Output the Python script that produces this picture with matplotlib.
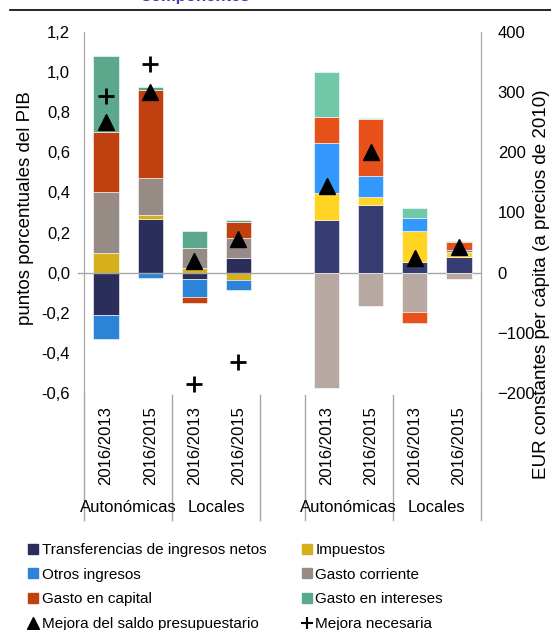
import numpy as np
import matplotlib.pyplot as plt
from matplotlib.lines import Line2D

plt.rcParams['font.family'] = ['Liberation Sans', 'DejaVu Sans']

# categorias
periodos = ["2016/2013", "2016/2015", "2016/2013", "2016/2015"]
grupos = ["Autonómicas", "Locales"]

componentes = ["Transferencias de ingresos netos", "Impuestos", "Otros ingresos",
               "Gasto corriente", "Gasto en capital", "Gasto en intereses"]

# puntos porcentuales del PIB (panel izquierdo)
pib_transf = [-0.21, 0.27, -0.033, 0.071]
pib_impuestos = [0.10, 0.02, 0.025, -0.038]
pib_otros = [-0.12, -0.025, -0.09, -0.05]
pib_corriente = [0.30, 0.18, 0.10, 0.103]
pib_capital = [0.30, 0.44, -0.027, 0.078]
pib_intereses = [0.38, 0.015, 0.083, 0.01]
pib_saldo = [0.75, 0.90, 0.058, 0.166]
pib_necesaria = [0.88, 1.04, -0.555, -0.445]

# EUR constantes per capita (panel derecho)
eur_transf = [88, 112, 17, 26]
eur_impuestos = [45, 14, 53, 8]
eur_otros = [83, 35, 21, 4]
eur_corriente = [-192, -56, -66, -11]
eur_capital = [42, 94, -18, 13]
eur_intereses = [76, 2, 17, 2]
eur_saldo = [144, 201, 24, 43]

col_izq = ['#2b2d5b', '#d5b01c', '#2b84d8', '#978b85', '#c0410f', '#5ba88c']
col_der = ['#363d72', '#ffd422', '#3399ff', '#b8a8a2', '#e8521a', '#6fc8a8']

W, H = 551, 630
fig = plt.figure(figsize=(W / 100, H / 100), dpi=100)
ax = fig.add_axes([84 / W, 1 - 393 / H, (481 - 84) / W, (393 - 32) / H])
ax2 = ax.twinx()

pos_izq = np.array([0, 1, 2, 3])
pos_der = np.array([5, 6, 7, 8])
ancho = 0.57


def apilar(eje, xs, series, colores):
    arriba = np.zeros(len(xs))
    abajo = np.zeros(len(xs))
    for vals, c in zip(series, colores):
        vals = np.array(vals, dtype=float)
        base = np.where(vals >= 0, arriba, abajo)
        eje.bar(xs, vals, ancho, bottom=base, color=c, edgecolor='white', linewidth=0.4, zorder=2)
        arriba = arriba + np.where(vals >= 0, vals, 0)
        abajo = abajo + np.where(vals < 0, vals, 0)


apilar(ax, pos_izq, [pib_transf, pib_impuestos, pib_otros, pib_corriente, pib_capital, pib_intereses], col_izq)
apilar(ax2, pos_der, [eur_transf, eur_impuestos, eur_otros, eur_corriente, eur_capital, eur_intereses], col_der)

ax.plot(pos_izq, pib_saldo, '^', color='black', markersize=12, zorder=4, linestyle='none')
ax.plot(pos_izq, pib_necesaria, '+', color='black', markersize=12, mew=2, zorder=4,
        linestyle='none', clip_on=False)
ax2.plot(pos_der, eur_saldo, '^', color='black', markersize=12, zorder=4, linestyle='none')

ax.set_xlim(-0.5, 8.5)
ax.set_ylim(-0.6, 1.2)
ax2.set_ylim(-200, 400)
ax.set_yticks(np.arange(-0.6, 1.21, 0.2))
ax.set_yticklabels([f"{v:.1f}".replace('.', ',') for v in np.arange(-0.6, 1.21, 0.2)])
ax2.set_yticks(np.arange(-200, 401, 100))
ax.set_xticks([])

gris = '#a6a6a6'
for a in (ax, ax2):
    a.spines['top'].set_visible(False)
    a.spines['bottom'].set_visible(False)
    a.spines['left'].set_color(gris)
    a.spines['right'].set_color(gris)
    a.tick_params(axis='y', length=0, labelsize=12)
ax.tick_params(axis='y', pad=10)
ax2.tick_params(axis='y', pad=12)

# linea del cero
ax.plot([-0.64, 8.5], [0, 0], color=gris, linewidth=1, clip_on=False, zorder=3)

# ejes de categorias (dos niveles)
tr = ax.get_xaxis_transform()
yb = -(520 - 393) / (393 - 32)
for x in [-0.5, 8.5]:
    ax.plot([x, x], [0, yb], color=gris, linewidth=1, clip_on=False, transform=tr)
for x in [1.5, 3.5, 4.5, 6.5]:
    ax.plot([x, x], [-0.006, yb], color=gris, linewidth=1, clip_on=False, transform=tr)

for i, x in enumerate(list(pos_izq) + list(pos_der)):
    ax.text(x, -(406 - 393) / 361, periodos[i % 4], rotation=90, ha='center', va='top',
            fontsize=12, transform=tr)
for x0 in [0.5, 5.5]:
    ax.text(x0, -(507 - 393) / 361, grupos[0], ha='center', va='center', fontsize=12, transform=tr)
    ax.text(x0 + 2, -(507 - 393) / 361, grupos[1], ha='center', va='center', fontsize=12, transform=tr)

fig.text(26 / W, 1 - 208 / H, "puntos porcentuales del PIB", rotation=90, ha='center', va='center',
         fontsize=13.5)
fig.text(542 / W, 1 - 284 / H, "EUR constantes per cápita (a precios de 2010)", rotation=90,
         ha='center', va='center', fontsize=13.5)

# titulo recortado y linea superior
fig.text(195 / W, 1 - 1.5 / H, "Componentes", ha='center', va='baseline', fontsize=12,
         fontweight='bold', color='#3b3bb0')
fig.add_artist(Line2D([10 / W, 1], [1 - 10 / H, 1 - 10 / H], color='black', linewidth=1.2))

# leyenda
h = [Line2D([], [], marker='s', color=col_izq[0], linestyle='none', markersize=7),
     Line2D([], [], marker='s', color=col_izq[2], linestyle='none', markersize=7),
     Line2D([], [], marker='s', color=col_izq[4], linestyle='none', markersize=7),
     Line2D([], [], marker='^', color='black', linestyle='none', markersize=8),
     Line2D([], [], marker='s', color=col_izq[1], linestyle='none', markersize=7),
     Line2D([], [], marker='s', color=col_izq[3], linestyle='none', markersize=7),
     Line2D([], [], marker='s', color=col_izq[5], linestyle='none', markersize=7),
     Line2D([], [], marker='+', color='black', linestyle='none', markersize=8, mew=1.5)]
lab = [componentes[0], componentes[2], componentes[4], "Mejora del saldo presupuestario",
       componentes[1], componentes[3], componentes[5], "Mejora necesaria"]
fig.legend(h, lab, ncol=2, loc='upper left', bbox_to_anchor=(28 / W, 1 - 543 / H), frameon=False,
           fontsize=11, handlelength=0.7, handletextpad=0.2, columnspacing=2.3, labelspacing=0.7,
           borderaxespad=0, borderpad=0)

fig.savefig("out.png", dpi=100)
